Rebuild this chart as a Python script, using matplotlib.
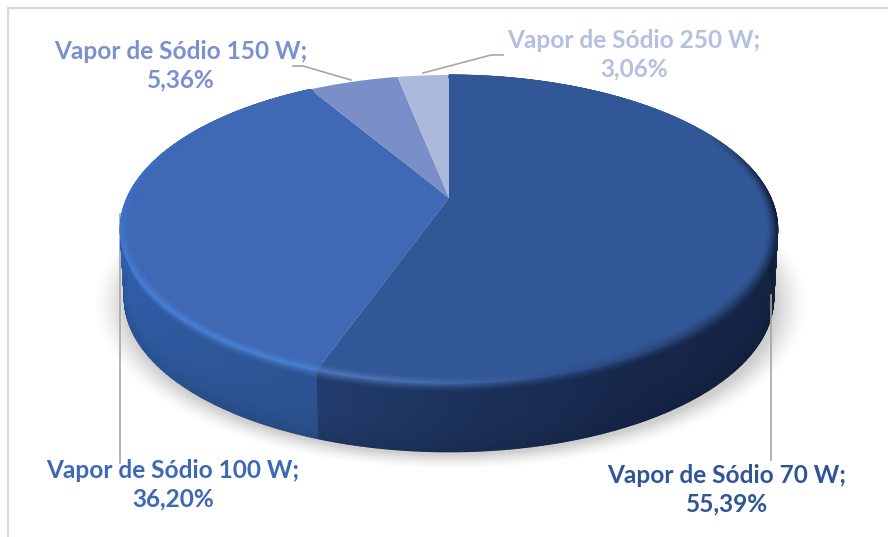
import numpy as np
import matplotlib
matplotlib.use("Agg")
import matplotlib.pyplot as plt
from matplotlib.colors import to_rgb

categories = ["Vapor de Sódio 70 W", "Vapor de Sódio 100 W", "Vapor de Sódio 150 W", "Vapor de Sódio 250 W"]
percent = [55.39, 36.20, 5.36, 3.06]
face_colors = ["#325796", "#3f68b5", "#7a8fc8", "#adb9dc"]
text_colors = ["#2f5597", "#3e68b6", "#7b90cf", "#b3c0e2"]
label_centers = [(727, 490), (173, 485), (181, 66), (634, 55)]

# projection of the pie disc
CX, CY, AX, BX, K, DEPTH = 449.0, 198.0, 322.0, 147.7, 0.201, 69.0

def project(theta_deg, r=1.0, drop=0.0, shrink=1.0):
    t = np.radians(theta_deg)
    X, Y = r * np.sin(t), r * np.cos(t)
    w = 1 + K * Y
    return CX + shrink * AX * X / w, CY - BX * Y / w + drop

def blend(angles, stops):
    a = [s[0] for s in stops]
    rgb = np.array([to_rgb(s[1]) for s in stops])
    return np.stack([np.interp(angles, a, rgb[:, i]) for i in range(3)], axis=-1)

fig = plt.figure(figsize=(8.88, 5.37), dpi=100, facecolor="white")
ax = fig.add_axes([0, 0, 1, 1])

# drop shadow
gx, gy = np.meshgrid(np.arange(0, 888), np.arange(0, 537))
d = np.sqrt(((gx - 450) / 331.0) ** 2 + ((gy - 304) / 153.0) ** 2) - 1
alpha = np.clip(1 - (d + 0.02) / 0.10, 0, 1) ** 1.5 * 0.42
shadow = np.zeros(gx.shape + (4,))
shadow[..., :3] = 0.55
shadow[..., 3] = alpha
ax.imshow(shadow, extent=(0, 888, 537, 0), aspect="auto", zorder=1)

# frame
ax.plot([8, 8, 888], [537, 8, 8], color="#d9d9d9", lw=1.6, zorder=1, solid_joinstyle="miter")

# leader line behind the pie
ax.plot([119.5, 119.5], [214, 463], color="#a6a6a6", lw=1.2, zorder=1.5)

bounds = np.concatenate([[0], np.cumsum(percent)]) / sum(percent) * 360
wall_stops = {
    0: [(0, "#14233f"), (100, "#14233f"), (150, "#16264a"), (175, "#1b3058"), (199.5, "#223d6e")],
    1: [(199.4, "#2c5390"), (235, "#2f5ba3"), (262, "#3060ac"), (272, "#3a6cc0"), (280, "#3a6cc0")],
}
rim_stops = {
    0: [(0, "#325796"), (62, "#325796"), (80, "#1b2f55"), (95, "#0f1a30"), (115, "#1a2f55"),
        (140, "#24406f"), (165, "#2f5290"), (185, "#4a6fae"), (199.5, "#4f78bc")],
    1: [(199.4, "#4a80d0"), (235, "#4a80d6"), (270, "#3a72cc"), (290, "#3c6dc0"), (305, "#3f68b5"), (330, "#3f68b5")],
}

# side walls
for i in [1, 0]:
    n = max(int(bounds[i + 1] - bounds[i]) * 2, 10)
    th = np.linspace(bounds[i], bounds[i + 1], n)
    fr = np.r_[np.linspace(0, 0.14, 6), np.linspace(0.2, 1, 8)]
    TH, FR = np.meshgrid(th, fr)
    Xm, Ym = project(TH, drop=DEPTH * FR, shrink=1 - 0.012 * FR)
    C = blend(TH, wall_stops[i]) * (1 - 0.12 * FR[..., None] ** 4)
    t = np.clip(1 - FR / 0.14, 0, 1)[..., None] ** 1.5
    C = (1 - t) * C + t * blend(TH, rim_stops[i])
    ax.pcolormesh(Xm, Ym, C, shading="gouraud", zorder=2)

# top surface
for i in range(len(percent)):
    th = np.linspace(bounds[i], bounds[i + 1], max(int(bounds[i + 1] - bounds[i]) * 2, 6))
    px, py = project(th)
    ax.fill(np.r_[CX, px], np.r_[CY, py], color=face_colors[i], lw=0, zorder=3)

# bevel on the rim of the two big slices
for i in [0, 1]:
    n = max(int(bounds[i + 1] - bounds[i]) * 2, 10)
    th = np.linspace(bounds[i], bounds[i + 1], n)
    rr = np.linspace(0.97, 1.0, 8)
    TH, RR = np.meshgrid(th, rr)
    Xm, Ym = project(TH, r=RR)
    t = (((RR - 0.97) / 0.03) ** 1.4)[..., None]
    C = (1 - t) * np.array(to_rgb(face_colors[i])) + t * blend(TH, rim_stops[i])
    ax.pcolormesh(Xm, Ym, C, shading="gouraud", zorder=3.2)

# other leader lines
ax.plot([293, 303, 351], [66, 66, 80], color="#a6a6a6", lw=1.2, zorder=4)
ax.plot([423, 491, 503], [73, 55, 55], color="#a6a6a6", lw=1.2, zorder=4)
ax.plot([771, 771], [295, 460], color="#a6a6a6", lw=1.2, zorder=4)

for name, val, col, (lx, ly) in zip(categories, percent, text_colors, label_centers):
    ax.text(lx, ly, f"{name};\n{val:.2f}".replace(".", ",") + "%", color=col, ha="center", va="center",
            family="Lato", fontweight="bold", fontsize=17.6, linespacing=1.3, zorder=5)

ax.set_xlim(0, 888)
ax.set_ylim(537, 0)
ax.axis("off")
fig.savefig("out.png", dpi=100)
